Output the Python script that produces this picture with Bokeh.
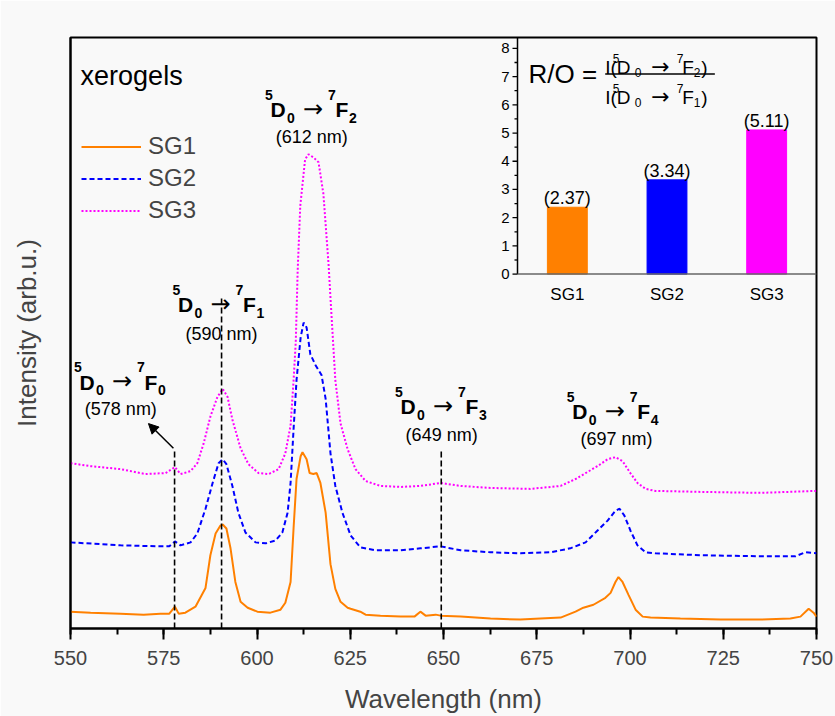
from bokeh.plotting import figure
from bokeh.models import (Range1d, SingleIntervalTicker, FixedTicker,
                          ColumnDataSource, Legend, LegendItem, Arrow, NormalHead)
from bokeh.core.properties import value
from bokeh.embed import file_html
from bokeh.resources import INLINE

FONT = "Liberation Sans"
ARROW_FONT = "DejaVu Sans"
BG = "#f9f9f9"
ORANGE = "#ff8000"
BLUE = "#0000ff"
MAGENTA = "#ff00ff"

# ---------------- spectra (arb. units incl. vertical offsets) -------------
wl_sg1 = [550, 555.4, 563.4, 569.6, 574.1, 576.5, 578, 579, 580.8, 583.5,
          586.2, 587.5, 588.9, 590.2, 590.8, 591.8, 592.9, 594.2, 595.6, 597.5,
          600.1, 603.6, 606.3, 607.6, 609, 609.8, 610.6, 611.7, 612.2, 613.3,
          614.1, 615.1, 616, 617, 618.4, 619.7, 621, 622.4, 624.3, 625.1,
          627.7, 629.1, 633.1, 638.5, 642.2, 643.8, 645.2, 647.9, 649.2, 654.6,
          662.6, 670.6, 681.4, 685.4, 687.5, 690.2, 693.4, 694.8, 696.1, 696.9,
          698, 699.6, 701.5, 703.4, 705.5, 713.5, 724.3, 735, 743, 745.7,
          747.9, 749.2, 750]
int_sg1 = [17, 16, 15, 14, 15, 15, 22, 15, 16, 22,
           41, 74, 96, 104, 105, 101, 81, 47, 27, 21,
           17, 16, 19, 26, 47, 101, 151, 174, 178, 171,
           157, 156, 157, 147, 117, 65, 40, 27, 21, 20,
           17, 14, 13, 12, 12, 17, 13, 14, 13, 12,
           10, 9, 11, 17, 21, 24, 31, 36, 47, 52,
           47, 34, 19, 12, 11, 10, 9, 9, 10, 12,
           20, 16, 12]

wl_sg2 = [550, 563.4, 574.1, 576.5, 578, 579.5, 582.2, 584, 586.2, 588.1,
          589.7, 590.8, 591.8, 593.4, 595, 596.9, 599.6, 602.3, 605, 606.8,
          608.2, 609, 609.8, 610.6, 611.7, 612.5, 613.3, 614.3, 615.7, 616.5,
          617.3, 618.4, 619.7, 621, 622.9, 625.1, 627.7, 631.8, 638.5, 643.8,
          649.2, 654.6, 662.6, 670.6, 678.7, 684, 688.1, 691.3, 694, 696.1,
          697.2, 698.5, 700.1, 702, 704.2, 706.8, 718.9, 735, 744.4, 747,
          750]
int_sg2 = [87, 84, 83, 83, 88, 84, 87, 96, 121, 147,
           167, 171, 166, 144, 117, 97, 87, 86, 89, 97,
           117, 147, 201, 251, 294, 309, 304, 277, 266, 261,
           256, 232, 177, 144, 117, 94, 82, 79, 79, 81,
           83, 79, 77, 76, 77, 81, 87, 99, 109, 119,
           121, 114, 99, 84, 77, 76, 74, 73, 73, 77,
           76]

wl_sg3 = [550, 555.4, 563.4, 570.1, 575.5, 578, 579.5, 582.2, 584, 585.7,
          587.5, 589.4, 590.8, 592.1, 593.4, 595.6, 597.7, 600.4, 603.1, 605.8,
          607.6, 609, 609.8, 610.4, 610.9, 611.6, 612.9, 613.8, 615.1, 616.5,
          617.8, 619.2, 619.7, 621, 622.4, 624.3, 626.4, 629.1, 633.1, 638.5,
          643.8, 649.2, 654.6, 662.6, 673.3, 681.4, 685.4, 688.1, 691.3, 694,
          696.1, 698, 700.1, 702, 704.2, 706.8, 718.9, 735, 750]
int_sg3 = [167, 164, 161, 156, 157, 163, 156, 159, 167, 187,
           214, 234, 242, 234, 211, 182, 166, 157, 156, 161,
           177, 205, 250, 290, 361, 427, 474, 479, 476, 471,
           439, 367, 334, 251, 207, 181, 161, 149, 144, 143,
           144, 147, 144, 142, 141, 144, 151, 157, 164, 171,
           173, 169, 157, 147, 141, 139, 138, 137, 139]

# ---------------- annotations ----------------
trans_sub = ["0", "1", "2", "3", "4"]
trans_wl = [551.1, 577.5, 602.3, 637.1, 683.2]      # left start of each label
trans_int = [249, 327, 524, 224, 219]               # baseline of "D"
nm_text = ["(578 nm)", "(590 nm)", "(612 nm)", "(649 nm)", "(697 nm)"]
nm_wl = [563.5, 590.5, 614.7, 649.5, 696.4]
nm_int = [222, 297, 496, 195, 191]
marker_wl = [577.9, 590.5, 649.4]
marker_top = [179, 336, 179]

# ---------------- inset data ----------------
groups = ["SG1", "SG2", "SG3"]
ratios = [2.37, 3.34, 5.11]
bar_colors = [ORANGE, BLUE, MAGENTA]
inset_ticks = [0, 1, 2, 3, 4, 5, 6, 7, 8]

# ================= main figure =================
# inset coordinate system: x in category units (0..3), y in R/O units (0..8)
IX = Range1d(-4.485, 3.0)
IY = Range1d(-12.561, 8.386)
p = figure(width=835, height=716, x_range=Range1d(550, 750), y_range=Range1d(0, 597),
           output_backend="svg", toolbar_location=None,
           min_border=0, min_border_left=70, min_border_top=37,
           min_border_right=19, min_border_bottom=82,
           background_fill_color=BG, border_fill_color=BG)
p.extra_x_ranges = {"ix": IX}
p.extra_y_ranges = {"iy": IY}
p.xgrid.visible = False
p.ygrid.visible = False
p.outline_line_color = "black"
p.outline_line_width = 2

xa = p.xaxis[0]
xa.ticker = SingleIntervalTicker(interval=25, num_minor_ticks=2)
xa.axis_label = "Wavelength (nm)"
xa.axis_label_text_font = FONT
xa.axis_label_text_font_size = "26px"
xa.axis_label_text_font_style = "normal"
xa.axis_label_standoff = 16
xa.major_label_text_font = FONT
xa.major_label_text_font_size = "20px"
xa.major_label_standoff = 11
xa.axis_line_width = 2
xa.major_tick_line_width = 2
xa.minor_tick_line_width = 2
xa.major_tick_out = 11
xa.major_tick_in = 0
xa.minor_tick_out = 6
xa.minor_tick_in = 0

ya = p.yaxis[0]
ya.ticker = FixedTicker(ticks=[])
ya.axis_label = "Intensity (arb.u.)"
ya.axis_label_text_font = FONT
ya.axis_label_text_font_size = "26px"
ya.axis_label_text_font_style = "normal"
ya.axis_label_standoff = 29
ya.axis_line_width = 2
ya.major_tick_line_color = None
ya.minor_tick_line_color = None
ya.major_label_text_font_size = "0px"

r1 = p.line(wl_sg1, int_sg1, line_color=ORANGE, line_width=2)
r2 = p.line(wl_sg2, int_sg2, line_color=BLUE, line_width=2, line_dash="5 3")
r3 = p.line(wl_sg3, int_sg3, line_color=MAGENTA, line_width=2, line_dash="2 2")

legend = Legend(items=[LegendItem(label=g, renderers=[r]) for g, r in zip(groups, [r1, r2, r3])],
                location=(11, 404), padding=0, margin=0, spacing=4,
                glyph_width=60, glyph_height=27, label_height=27, label_standoff=7,
                label_text_font=FONT, label_text_font_size="24px",
                border_line_color=None, background_fill_alpha=0)
p.add_layout(legend)

p.segment(x0=marker_wl, y0=[0] * len(marker_wl), x1=marker_wl, y1=marker_top,
          line_color="black", line_width=1.6, line_dash="6 3")
p.add_layout(Arrow(end=NormalHead(size=10, fill_color="black", line_color="black"),
                   x_start=577.6, y_start=182, x_end=570.9, y_end=207,
                   line_color="black", line_width=1.5))

p.text(x=[552.7], y=[558], text=["xerogels"], text_font=value(FONT),
       text_font_size="27px", text_baseline="alphabetic", text_align="left")
p.text(x=nm_wl, y=nm_int, text=nm_text, text_font=value(FONT), text_font_size="18px",
       text_baseline="middle", text_align="center")

# composite "5D0 -> 7Fn" labels
piece_dx = [-0.5, 5, 21.5, 37.5, 62.5, 70, 83.5]
piece_dy = [-15, 0, 8, -1, -15, 0, 8]
piece_size = ["14px", "21px", "14px", "24px", "14px", "21px", "14px"]
piece_style = ["bold", "bold", "bold", "normal", "bold", "bold", "bold"]
piece_font = [FONT, FONT, FONT, ARROW_FONT, FONT, FONT, FONT]
cols = dict(x=[], y=[], text=[], dx=[], dy=[], size=[], style=[], font=[])
for wl, yi, sub in zip(trans_wl, trans_int, trans_sub):
    for t, dx, dy, sz, st, fn in zip(["5", "D", "0", "\u2192", "7", "F", sub],
                                     piece_dx, piece_dy, piece_size, piece_style, piece_font):
        cols["x"].append(wl); cols["y"].append(yi); cols["text"].append(t)
        cols["dx"].append(dx); cols["dy"].append(dy)
        cols["size"].append(sz); cols["style"].append(st); cols["font"].append(fn)
p.text(x="x", y="y", text="text", x_offset="dx", y_offset="dy", text_font_size="size",
       text_font_style="style", text_font="font", text_baseline="alphabetic",
       text_align="left", text_color="black", source=ColumnDataSource(cols))

# ================= inset (drawn in its own coordinate system) =================
R = dict(x_range_name="ix", y_range_name="iy")
px_per_x = 746 / (IX.end - IX.start)
pos = [i + 0.5 for i in range(len(groups))]

p.vbar(x=pos, top=ratios, width=0.4, fill_color=bar_colors, line_color=bar_colors, **R)
p.text(x=pos, y=ratios, text=["(%.2f)" % r for r in ratios], text_font=value(FONT),
       text_font_size="18px", text_align="center", text_baseline="bottom", y_offset=1, **R)
# inset axes
p.segment(x0=[0], y0=[0], x1=[0], y1=[IY.end], line_color="black", line_width=1.5, **R)
p.segment(x0=[0], y0=[0], x1=[IX.end], y1=[0], line_color="#666666", line_width=1.5, **R)
maj_len = 5 / px_per_x
min_len = 3 / px_per_x
p.segment(x0=[-maj_len] * len(inset_ticks), y0=inset_ticks, x1=[0] * len(inset_ticks),
          y1=inset_ticks, line_color="black", line_width=1.3, **R)
minor = [t + 0.5 for t in inset_ticks[:-1]]
p.segment(x0=[-min_len] * len(minor), y0=minor, x1=[0] * len(minor), y1=minor,
          line_color="black", line_width=1.3, **R)
p.text(x=[0] * len(inset_ticks), y=inset_ticks, text=[str(t) for t in inset_ticks],
       x_offset=-8, text_font=value(FONT), text_font_size="15px", text_align="right",
       text_baseline="middle", **R)
p.text(x=pos, y=[0] * len(pos), text=groups, y_offset=20, text_font=value(FONT),
       text_font_size="17px", text_align="center", text_baseline="middle", **R)

# R/O formula
p.text(x=[0.11], y=[7.09], text=["R/O ="], text_font=value(FONT), text_font_size="26px",
       text_align="left", text_baseline="middle", **R)
p.segment(x0=[0.88], y0=[7.09], x1=[1.98], y1=[7.09], line_color="black", line_width=1.5, **R)

frac_y = [7.333, 6.246]
frac_sub = ["2", "1"]
f_dx = [0, 7.5, 11.5, 29.5, 46, 71.5, 77, 88.5, 96]
f_dy = [0, -9, 0, 5, -1, -9, 0, 5, 0]
f_size = ["19px", "12px", "19px", "12px", "22px", "12px", "19px", "12px", "19px"]
f_font = [FONT, FONT, FONT, FONT, ARROW_FONT, FONT, FONT, FONT, FONT]
fc = dict(x=[], y=[], text=[], dx=[], dy=[], size=[], font=[])
for yy, sub in zip(frac_y, frac_sub):
    for t, dx, dy, sz, fn in zip(["I(", "5", "D", "0", "\u2192", "7", "F", sub, ")"],
                                 f_dx, f_dy, f_size, f_font):
        fc["x"].append(0.88); fc["y"].append(yy); fc["text"].append(t)
        fc["dx"].append(dx); fc["dy"].append(dy); fc["size"].append(sz); fc["font"].append(fn)
p.text(x="x", y="y", text="text", x_offset="dx", y_offset="dy", text_font_size="size",
       text_font="font", text_baseline="alphabetic", text_align="left",
       source=ColumnDataSource(fc), **R)

with open("out.html", "w") as f:
    f.write(file_html(p, INLINE))
